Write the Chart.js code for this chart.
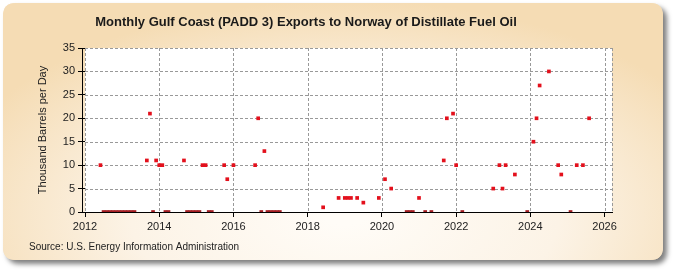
<!DOCTYPE html>
<html>
<head>
<meta charset="utf-8">
<script src="https://cdn.jsdelivr.net/npm/chart.js@4/dist/chart.umd.min.js"></script>
<style>
html,body{margin:0;padding:0;background:#fff;}
canvas{display:block;}
</style>
</head>
<body>
<canvas id="c" width="675" height="275"></canvas>
<script>
const titleText = "Monthly Gulf Coast (PADD 3) Exports to Norway of Distillate Fuel Oil";
const yAxisTitle = "Thousand Barrels per Day";
const sourceText = "Source: U.S. Energy Information Administration";

const months = [
  "2012-06","2012-07","2012-08","2012-09","2012-10","2012-11","2012-12",
  "2013-01","2013-02","2013-03","2013-04","2013-05",
  "2013-09","2013-10","2013-11","2013-12",
  "2014-01","2014-02","2014-03","2014-04","2014-09","2014-10","2014-11","2014-12",
  "2015-01","2015-02","2015-03","2015-04","2015-05","2015-06","2015-10","2015-11",
  "2016-01","2016-08","2016-09","2016-10","2016-11","2016-12",
  "2017-01","2017-02","2017-03","2017-04",
  "2018-06","2018-11",
  "2019-01","2019-02","2019-03","2019-05","2019-07","2019-12",
  "2020-02","2020-04","2020-09","2020-10","2020-11",
  "2021-01","2021-03","2021-05","2021-09","2021-10","2021-12",
  "2022-01","2022-03",
  "2023-01","2023-03","2023-04","2023-05","2023-08","2023-12",
  "2024-02","2024-03","2024-04","2024-07","2024-10","2024-11",
  "2025-02","2025-04","2025-06","2025-08"
];
const values = [
  10,0,0,0,0,0,0,
  0,0,0,0,0,
  11,21,0,11,
  10,10,0,0,11,0,0,0,
  0,0,10,10,0,0,10,7,
  10,10,20,0,13,0,
  0,0,0,0,
  1,3,
  3,3,3,3,2,3,
  7,5,0,0,0,
  3,0,0,11,20,21,
  10,0,
  5,10,5,10,8,0,
  15,20,27,30,10,8,
  0,10,10,20
];
const xTicks = [2012,2014,2016,2018,2020,2022,2024,2026];
const yTicks = [0,5,10,15,20,25,30,35];

function toYear(m){ const p = m.split("-"); return Number(p[0]) + (Number(p[1]) - 1) / 12; }
const points = months.map((m, i) => ({x: toYear(m), y: values[i]}));

const FONT = "'Liberation Sans', Arial, sans-serif";
const GRID = "#999999";

function roundRect(ctx, x, y, w, h, r){
  ctx.beginPath();
  ctx.moveTo(x + r, y);
  ctx.lineTo(x + w - r, y);
  ctx.quadraticCurveTo(x + w, y, x + w, y + r);
  ctx.lineTo(x + w, y + h - r);
  ctx.quadraticCurveTo(x + w, y + h, x + w - r, y + h);
  ctx.lineTo(x + r, y + h);
  ctx.quadraticCurveTo(x, y + h, x, y + h - r);
  ctx.lineTo(x, y + r);
  ctx.quadraticCurveTo(x, y, x + r, y);
  ctx.closePath();
}
function hDash(ctx, x1, x2, y){
  for (let x = x1; x < x2; x += 5) ctx.fillRect(x, y, Math.min(3, x2 - x), 1);
}
function vDash(ctx, x, y1, y2){
  for (let y = y1; y < y2; y += 5) ctx.fillRect(x, y, 1, Math.min(3, y2 - y));
}

function drawGrid(chart){
  const ctx = chart.ctx;
  const a = chart.chartArea;
  const xs = chart.scales.x, ys = chart.scales.y;
  const L = Math.round(a.left), R = Math.round(a.right), T = Math.round(a.top), B = Math.round(a.bottom);
  ctx.save();
  ctx.fillStyle = GRID;
  yTicks.forEach(v => {
    if (v === 0) return;
    hDash(ctx, L, R, Math.round(ys.getPixelForValue(v)));
  });
  xTicks.forEach(v => {
    vDash(ctx, Math.round(xs.getPixelForValue(v)), T, B);
  });
  vDash(ctx, R, T, B);
  ctx.fillStyle = "#000000";
  ctx.fillRect(L - 3, T, 1, B - T + 1);
  ctx.fillRect(L - 3, B, R - L + 4, 1);
  ctx.restore();
}

const bgPlugin = {
  id: "bg",
  beforeDraw(chart){
    const ctx = chart.ctx;
    const a = chart.chartArea;
    ctx.save();
    ctx.fillStyle = "#ffffff";
    ctx.fillRect(0, 0, chart.width, chart.height);
    ctx.shadowColor = "rgba(0,0,0,0.5)";
    ctx.shadowBlur = 5;
    ctx.shadowOffsetX = 4;
    ctx.shadowOffsetY = 4;
    ctx.fillStyle = "#f6e0bd";
    roundRect(ctx, 3, 3, 660, 257, 13);
    ctx.fill();
    ctx.restore();
    ctx.save();
    roundRect(ctx, 3, 3, 660, 257, 13);
    ctx.clip();
    ctx.translate(345, 215);
    ctx.scale(1.9, 1);
    const g = ctx.createRadialGradient(0, 0, 10, 0, 0, 215);
    g.addColorStop(0, "#fffcf7");
    g.addColorStop(0.5, "#fcf3e6");
    g.addColorStop(1, "#f5dcb4");
    ctx.fillStyle = g;
    ctx.fillRect(-200, -230, 400, 300);
    ctx.restore();
    ctx.save();
    ctx.fillStyle = "#ffffff";
    ctx.fillRect(a.left, a.top, a.right - a.left, a.bottom - a.top);
    ctx.restore();
    drawGrid(chart);
  },
  afterDraw(chart){
    const ctx = chart.ctx;
    ctx.save();
    ctx.fillStyle = "#222";
    ctx.font = "10px " + FONT;
    ctx.textBaseline = "middle";
    ctx.textAlign = "left";
    ctx.fillText(sourceText, 29, 247);
    ctx.restore();
  }
};

new Chart(document.getElementById("c"), {
  type: "scatter",
  data: {
    datasets: [{
      data: points,
      pointStyle: "rect",
      pointRadius: 2.6,
      pointHoverRadius: 2.6,
      pointBorderWidth: 0,
      backgroundColor: values.map(v => v === 0 ? "#a31d22" : "#e3101c"),
      borderColor: values.map(v => v === 0 ? "#a31d22" : "#e3101c")
    }]
  },
  options: {
    responsive: false,
    devicePixelRatio: 1,
    animation: false,
    events: [],
    layout: { padding: { left: 0, right: 63, top: 0, bottom: 0 } },
    plugins: {
      legend: { display: false },
      tooltip: { enabled: false },
      title: {
        display: true,
        text: titleText,
        color: "#1a1a1a",
        font: { family: FONT, size: 13, weight: "bold", lineHeight: 1.2 },
        padding: { top: 15, bottom: 17.4 }
      }
    },
    scales: {
      x: {
        type: "linear",
        min: 2012,
        max: 2026.2,
        afterBuildTicks(scale){ scale.ticks = xTicks.map(v => ({value: v})); },
        afterFit(scale){ scale.height = 63; },
        ticks: {
          color: "#222",
          font: { family: FONT, size: 11 },
          padding: 3,
          maxRotation: 0,
          autoSkip: false,
          callback: v => String(v)
        },
        grid: {
          drawOnChartArea: false,
          lineWidth: 1,
          tickLength: 5,
          tickColor: "#000"
        },
        border: { display: false }
      },
      y: {
        type: "linear",
        min: 0,
        max: 35,
        afterBuildTicks(scale){ scale.ticks = yTicks.map(v => ({value: v})); },
        afterFit(scale){ scale.width = 85; },
        ticks: {
          color: "#222",
          font: { family: FONT, size: 11 },
          padding: 3,
          autoSkip: false
        },
        grid: {
          drawOnChartArea: false,
          lineWidth: 1,
          tickLength: 7,
          tickColor: "#000"
        },
        border: { display: false },
        title: {
          display: true,
          text: yAxisTitle,
          color: "#222",
          font: { family: FONT, size: 11, lineHeight: 1.2 },
          padding: { top: 36, bottom: 0 }
        }
      }
    }
  },
  plugins: [bgPlugin]
});
</script>
</body>
</html>
